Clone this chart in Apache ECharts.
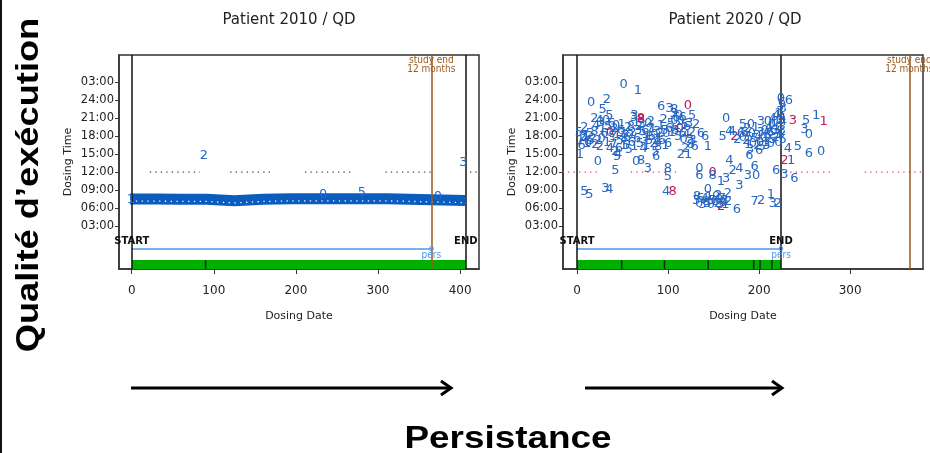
<!DOCTYPE html>
<html>
<head>
<meta charset="utf-8">
<script src="https://cdn.jsdelivr.net/npm/echarts@6/dist/echarts.min.js"></script>
<style>html,body{margin:0;padding:0;background:#fff}#c{width:930px;height:453px}</style>
</head>
<body>
<div id="c"></div>
<script>
// ---------- data ----------
const panelTitles = ['Patient 2010 / QD', 'Patient 2020 / QD'];
const yTickValues = [3, 6, 9, 12, 15, 18, 21, 24, 27];
const yTickLabels = ['03:00', '06:00', '09:00', '12:00', '15:00', '18:00', '21:00', '24:00', '03:00'];
const p1XTicks = [0, 100, 200, 300, 400];
const p2XTicks = [0, 100, 200, 300];

const STUDY_END = 365;
const p1EndDay = 407;
const p2EndDay = 224;
const p1PersEnd = 365;
const p2PersEnd = 224;

// panel 1: dense band of daily doses (day, hour)
const p1Band = [[-2, 7.5], [30, 7.5], [60, 7.45], [91, 7.45], [92, 7.2], [125, 7.2], [126, 7.4], [160, 7.45], [195, 7.55], [250, 7.55], [311, 7.55], [312, 7.25], [406, 7.25]];
// panel 1: isolated digit labels (day, hour, text)
const p1Digits = [[88, 14.85, '2'], [404, 13.6, '3'], [280.5, 8.5, '5'], [233, 8.2, '0'], [373, 7.9, '0'], [-1, 7.4, '1']];
// panel 2: digit labels (day, hour, text, colour 0 = blue, 1 = crimson)
const p2Digits = [
  [51, 26.7, '0', 0], [66.7, 25.6, '1', 0], [15.4, 23.6, '0', 0], [32.6, 24.1, '2', 0], [28, 22.5, '5', 0],
  [35.5, 21.5, '5', 0], [19, 21.0, '2', 0], [24.5, 20.7, '4', 0], [63, 21.5, '3', 0], [70.3, 20.8, '8', 1],
  [92.3, 23.0, '6', 0], [101.5, 22.6, '3', 0], [107, 22.4, '8', 0], [121.6, 23.1, '0', 1], [126.4, 21.5, '5', 0],
  [130.8, 19.9, '2', 0], [163.7, 21.0, '0', 0], [140.7, 17.9, '6', 0], [143.6, 16.2, '1', 0], [127, 17.2, '3', 0],
  [129, 16.2, '6', 0], [114, 15.0, '2', 0], [167, 18.7, '4', 0], [160, 17.9, '5', 0], [172.9, 17.9, '2', 1],
  [182, 19.9, '5', 0], [191, 19.9, '0', 0], [202, 20.4, '3', 0], [209.5, 20.4, '0', 0], [215, 21.0, '4', 0],
  [224, 24.3, '0', 0], [232.6, 23.9, '6', 0], [226, 22.6, '3', 0], [225.3, 20.9, '4', 1], [237, 20.6, '3', 1],
  [251.6, 20.7, '5', 0], [262.6, 21.4, '1', 0], [270.7, 20.5, '1', 1], [249.8, 19.1, '3', 0], [254.6, 18.3, '0', 0],
  [231.5, 15.9, '4', 0], [242.5, 16.3, '5', 0], [254.6, 15.1, '6', 0], [268, 15.4, '0', 0], [227.8, 14.0, '2', 1],
  [235, 14.0, '1', 0], [218.7, 12.3, '6', 0], [227.8, 11.6, '3', 0], [238.8, 10.9, '6', 0], [196.7, 11.5, '0', 0],
  [187.5, 11.5, '3', 0], [194.9, 13.0, '6', 0], [167.4, 14.0, '4', 0], [189.4, 14.8, '6', 0], [158, 10.4, '1', 0],
  [163.7, 10.9, '3', 0], [171, 12.3, '2', 0], [178.4, 12.6, '4', 0], [178.4, 9.8, '3', 0], [134.4, 12.6, '0', 0],
  [134.4, 11.5, '6', 0], [149, 12.0, '0', 1], [149, 11.4, '8', 0], [143.6, 9.0, '0', 0],
  [130.8, 7.3, '3', 0], [136, 7.6, '5', 0], [141.8, 7.0, '8', 0], [149, 7.3, '5', 0], [154.6, 6.7, '2', 0],
  [158.2, 6.2, '2', 1], [162, 7.3, '3', 0], [165.6, 8.4, '2', 0], [134, 6.7, '0', 0], [145, 7.9, '1', 0],
  [152.7, 7.9, '0', 0], [156, 7.4, '0', 0], [140, 7.6, '4', 0], [160, 6.9, '8', 0],
  [132, 7.9, '8', 0], [138, 6.6, '3', 0], [143, 6.8, '5', 0], [147, 6.5, '0', 0], [151, 7.0, '6', 0],
  [155, 8.0, '2', 0], [157, 6.6, '5', 0], [159, 7.6, '7', 0], [163, 6.5, '1', 0], [166, 7.0, '2', 0],
  [175.5, 5.7, '6', 0], [194.9, 7.0, '7', 0], [202.2, 7.2, '2', 0], [213, 8.2, '1', 0], [215, 6.7, '3', 0],
  [220.5, 6.7, '2', 0], [8, 8.7, '5', 0], [13.6, 8.2, '5', 0], [31, 9.25, '3', 0], [35.5, 9.1, '4', 0],
  [97.8, 8.7, '4', 0], [105, 8.7, '8', 1], [99.6, 12.6, '8', 0], [99.6, 11.2, '5', 0], [22.7, 13.7, '0', 0],
  [42, 12.3, '5', 0], [64.8, 13.7, '0', 0], [70.3, 13.9, '8', 0], [77.7, 12.6, '3', 0], [86.8, 14.6, '6', 0],
  [2, 18.6, '5', 0], [4, 17.2, '1', 0], [5, 16.4, '6', 0], [3, 15.0, '1', 0], [7, 17.9, '3', 0],
  [8, 19.4, '2', 0], [10, 18.0, '1', 0], [12, 17.0, '6', 0], [14, 18.4, '5', 0], [17, 17.6, '2', 0],
  [19, 18.8, '8', 0], [21, 19.8, '4', 0], [23, 17.3, '2', 0], [25, 16.2, '2', 0], [26, 20.3, '3', 0],
  [28, 19.3, '1', 0], [30, 18.4, '6', 0], [32, 20.6, '0', 0], [34, 19.6, '5', 0], [36, 18.6, '0', 1],
  [38, 17.6, '3', 0], [40, 16.6, '7', 0], [42, 15.5, '2', 0], [44, 14.6, '5', 0], [46, 16.0, '6', 0],
  [38, 20.2, '6', 0], [41, 19.2, '2', 0], [44, 18.2, '1', 0], [47, 17.2, '5', 0], [49, 20.0, '1', 0],
  [50, 18.5, '3', 0], [52, 17.6, '8', 0], [54, 16.5, '5', 0], [56, 19.5, '2', 0], [58, 18.2, '0', 0],
  [60, 17.0, '6', 0], [45, 15.0, '4', 0], [62, 21.2, '3', 0], [65, 20.3, '1', 0], [68, 19.6, '2', 0],
  [70, 21.0, '8', 1], [72, 18.8, '5', 0], [74, 17.5, '3', 0], [76, 16.4, '1', 0], [78, 20.2, '0', 0],
  [80, 19.1, '7', 0], [82, 18.0, '6', 0], [84, 16.8, '2', 0], [86, 15.5, '5', 0], [88, 18.8, '3', 0],
  [90, 17.6, '1', 0], [92, 19.8, '1', 0], [95, 20.8, '2', 0], [98, 18.4, '0', 0], [100, 16.8, '6', 0],
  [103, 20.2, '5', 0], [106, 21.8, '3', 0], [108, 19.0, '8', 0], [110, 19.8, '2', 0], [113, 19.2, '0', 1],
  [116, 18.5, '6', 0], [118, 20.0, '5', 0], [121, 19.6, '6', 0], [124, 17.4, '3', 0], [126, 18.6, '2', 0],
  [112, 21.4, '0', 0], [116, 21.2, '6', 0], [119, 16.0, '2', 0], [122, 15.0, '1', 0], [136, 18.4, '6', 0],
  [6, 17.8, '2', 0], [11, 16.8, '1', 0], [15, 17.2, '5', 0], [20, 16.6, '2', 0], [27, 17.6, '0', 0],
  [33, 17.0, '1', 0], [36, 16.0, '4', 0], [39, 18.8, '8', 0], [43, 19.8, '0', 0], [48, 18.9, '6', 0],
  [51, 16.4, '1', 0], [55, 17.8, '6', 0], [57, 15.8, '5', 0], [59, 19.6, '8', 0], [61, 18.6, '2', 0],
  [63, 16.2, '1', 0], [66, 17.6, '6', 0], [67, 18.9, '3', 0], [69, 16.8, '5', 0], [71, 19.9, '3', 0],
  [73, 16.0, '4', 0], [75, 19.0, '6', 0], [77, 18.0, '1', 0], [79, 17.2, '5', 0], [81, 20.4, '2', 0],
  [83, 19.2, '1', 0], [85, 18.2, '0', 0], [87, 17.0, '4', 0], [89, 16.2, '8', 0], [91, 18.4, '2', 0],
  [93, 17.2, '6', 0], [96, 19.0, '5', 0], [97, 16.4, '1', 0], [101, 19.2, '6', 0], [104, 18.6, '1', 0],
  [107, 20.6, '0', 0], [109, 21.2, '6', 0], [111, 18.0, '5', 0], [114, 20.4, '3', 0], [117, 17.4, '0', 0],
  [120, 18.2, '4', 0], [123, 20.2, '3', 0], [125, 16.6, '8', 0],
  [170, 18.7, '4', 0], [176, 17.5, '2', 0], [180, 18.4, '6', 0],
  [182, 17.8, '0', 0], [186, 17.2, '2', 0], [188, 16.6, '1', 0], [190, 15.7, '3', 0], [192, 18.4, '0', 0],
  [195, 17.6, '5', 0], [198, 16.4, '2', 0], [200, 15.6, '6', 0], [202, 18.6, '3', 0], [205, 17.8, '0', 0],
  [207, 17.0, '1', 0], [209, 18.2, '8', 0], [211, 19.4, '4', 0], [214, 20.0, '0', 0], [216, 18.9, '6', 0],
  [218, 17.8, '2', 0], [220, 18.3, '3', 0], [222, 19.5, '0', 0], [219, 21.4, '4', 0], [223, 22.2, '3', 0],
  [225, 23.6, '6', 0], [224, 18.3, '5', 0], [226, 17.4, '5', 0], [226, 20.4, '4', 0],
  [184, 18.6, '6', 0], [187, 19.2, '2', 0], [189, 17.8, '5', 0], [193, 16.8, '0', 0], [196, 19.4, '1', 0],
  [199, 18.0, '4', 0], [201, 17.0, '0', 0], [203, 16.2, '5', 0], [206, 19.0, '0', 0], [208, 16.4, '3', 0],
  [210, 17.6, '2', 0], [212, 18.6, '6', 0], [213, 16.8, '0', 0], [215, 17.4, '5', 0], [217, 20.4, '0', 0],
  [219, 19.0, '3', 0], [221, 17.0, '0', 0], [223, 20.6, '2', 0], [221, 21.8, '1', 0], [225, 19.0, '3', 0]
];
// dotted reference segments at 12:00 (start day, end day)
const p1DotSegments = [[22, 83], [120, 172], [211, 270], [309, 367], [412, 423]];
const p2DotSegments = [[-16, 25], [59, 110], [228, 281], [316, 380]];
// refill marks on the persistence bar (days)
const p1Refills = [90];
const p2Refills = [49, 96, 144, 194, 201, 214];

// ---------- constants (layout / style) ----------
const Y_MIN = -4.2, Y_MAX = 31.6, REF_HOUR = 12;
const START_Y = 0.45, PERS_Y = -0.84, PERS_TXT_Y = -1.85, BAR_TOP = -2.68, BAR_MID = -3.44, STUDY_TXT_Y = 29.9;
const BLUE = '#2767c4', CRIMSON = '#c2185b', BAND = '#0b5cbf', BROWN = '#9a5a1e', LIGHT = '#4b97ea';

function toSegments(segs, y) {
  const out = [];
  segs.forEach((s, i) => { if (i) out.push([s[0], '-']); out.push([s[0], y]); out.push([s[1], y]); });
  return out;
}
function textSeries(idx, arr, colorFn, font) {
  return {
    type: 'custom', xAxisIndex: idx, yAxisIndex: idx, clip: false, z: 5,
    data: arr.map(d => [d[0], d[1]]),
    renderItem: (params, api) => {
      const d = arr[params.dataIndex];
      const p = api.coord([d[0], d[1]]);
      return { type: 'text', x: p[0], y: p[1], style: { text: String(d[2]), fill: colorFn(d), font: font, align: 'center', verticalAlign: 'middle' } };
    }
  };
}
function annotations(idx, endDay, persEnd, dotSegs, dotColor, refills) {
  const notes = [
    [0, START_Y, 'START', '#111', 'bold 10px DejaVu Sans'],
    [endDay, START_Y, 'END', '#111', 'bold 10px DejaVu Sans'],
    [persEnd, PERS_TXT_Y, 'pers', LIGHT, '10px DejaVu Sans Condensed'],
    [persEnd, PERS_Y, 'o', LIGHT, '9px DejaVu Sans'],
    [STUDY_END, STUDY_TXT_Y, 'study end\n12 months', BROWN, '10px DejaVu Sans Condensed']
  ];
  return [
    { type: 'line', xAxisIndex: idx, yAxisIndex: idx, data: toSegments(dotSegs, REF_HOUR), symbol: 'none', connectNulls: false,
      lineStyle: { color: dotColor, width: 1.3, type: [1.3, 4.2] }, z: 2, silent: true },
    { type: 'line', xAxisIndex: idx, yAxisIndex: idx, data: [[0, PERS_Y], [persEnd, PERS_Y]], symbol: 'none',
      lineStyle: { color: LIGHT, width: 1.5 }, z: 3, silent: true },
    { type: 'scatter', xAxisIndex: idx, yAxisIndex: idx, data: refills.map(d => [d, BAR_MID]), symbol: 'rect', symbolSize: [1.6, 9],
      itemStyle: { color: '#111' }, z: 4, silent: true,
      markArea: { silent: true, itemStyle: { color: '#00b000' }, data: [[{ coord: [0, Y_MIN] }, { coord: [endDay, BAR_TOP] }]] },
      markLine: { silent: true, symbol: 'none', label: { show: false },
        data: [
          { xAxis: 0, lineStyle: { color: '#111', width: 1.5, type: 'solid' } },
          { xAxis: endDay, lineStyle: { color: '#111', width: 1.5, type: 'solid' } },
          { xAxis: STUDY_END, lineStyle: { color: BROWN, width: 1.5, type: 'solid' } }
        ] } },
    {
      type: 'custom', xAxisIndex: idx, yAxisIndex: idx, clip: false, z: 6,
      data: notes.map(n => [n[0], n[1]]),
      renderItem: (params, api) => {
        const n = notes[params.dataIndex];
        const p = api.coord([n[0], n[1]]);
        return { type: 'text', x: p[0], y: p[1], style: { text: n[2], fill: n[3], font: n[4], align: 'center', verticalAlign: 'middle', lineHeight: 9 } };
      }
    }
  ];
}
function xAxisCfg(idx, max, ticks) {
  return {
    type: 'value', gridIndex: idx, min: -15.5, max: max, name: 'Dosing Date', nameLocation: 'middle', nameGap: 42,
    nameTextStyle: { fontFamily: 'DejaVu Sans', fontSize: 11, color: '#222' },
    axisLine: { show: true, onZero: false, lineStyle: { color: '#333', width: 1.5 } }, splitLine: { show: false },
    axisTick: { show: true, customValues: ticks, length: 5, lineStyle: { color: '#333' } },
    axisLabel: { customValues: ticks, margin: 16, fontFamily: 'DejaVu Sans', fontSize: 12, color: '#222' }
  };
}
function yAxisCfg(idx) {
  return {
    type: 'value', gridIndex: idx, min: Y_MIN, max: Y_MAX, name: 'Dosing Time', nameLocation: 'middle', nameGap: 45, nameRotate: 90,
    nameTextStyle: { fontFamily: 'DejaVu Sans', fontSize: 11, color: '#222' },
    axisLine: { show: true, onZero: false, lineStyle: { color: '#333', width: 1.5 } }, splitLine: { show: false },
    axisTick: { show: true, customValues: yTickValues, length: 4, lineStyle: { color: '#333' } },
    axisLabel: { customValues: yTickValues, margin: 5, fontFamily: 'DejaVu Sans', fontSize: 11.5, color: '#222',
      formatter: v => yTickLabels[yTickValues.indexOf(v)] }
  };
}

const chart = echarts.init(document.getElementById('c'), null, { renderer: 'canvas' });
const option = {
  backgroundColor: '#fff',
  animation: false,
  grid: [
    { left: 119, top: 55, width: 360, height: 214, show: true, borderColor: '#333', borderWidth: 1.5 },
    { left: 563, top: 55, width: 360, height: 214, show: true, borderColor: '#333', borderWidth: 1.5 }
  ],
  xAxis: [xAxisCfg(0, 423, p1XTicks), xAxisCfg(1, 380, p2XTicks)],
  yAxis: [yAxisCfg(0), yAxisCfg(1)],
  graphic: [
    { type: 'rect', shape: { x: 0, y: 0, width: 2, height: 453 }, style: { fill: '#111' } },
    { type: 'text', x: 29, y: 185, rotation: Math.PI / 2, scaleX: 1.17, style: { text: 'Qualité d’exécution', font: 'bold 31px Liberation Sans', fill: '#000', align: 'center', verticalAlign: 'middle' } },
    { type: 'text', x: 508, y: 439, scaleX: 1.19, style: { text: 'Persistance', font: 'bold 31px Liberation Sans', fill: '#000', align: 'center', verticalAlign: 'middle' } },
    { type: 'text', x: 289, y: 20, style: { text: panelTitles[0], font: '15px DejaVu Sans', fill: '#222', align: 'center', verticalAlign: 'middle' } },
    { type: 'text', x: 735, y: 20, style: { text: panelTitles[1], font: '15px DejaVu Sans', fill: '#222', align: 'center', verticalAlign: 'middle' } },
    { type: 'line', shape: { x1: 131, y1: 388, x2: 450, y2: 388 }, style: { stroke: '#000', lineWidth: 3 } },
    { type: 'polyline', shape: { points: [[441, 381], [451, 388], [441, 395]] }, style: { stroke: '#000', lineWidth: 3, fill: null } },
    { type: 'line', shape: { x1: 585, y1: 388, x2: 781, y2: 388 }, style: { stroke: '#000', lineWidth: 3 } },
    { type: 'polyline', shape: { points: [[772, 381], [782, 388], [772, 395]] }, style: { stroke: '#000', lineWidth: 3, fill: null } }
  ],
  series: [
    { type: 'line', xAxisIndex: 0, yAxisIndex: 0, data: p1Band, symbol: 'none', z: 4,
      lineStyle: { color: BAND, width: 11, cap: 'butt', join: 'miter' } },
    { type: 'line', xAxisIndex: 0, yAxisIndex: 0, data: p1Band.map(d => [d[0], d[1] - 0.35]), symbol: 'none', z: 4,
      lineStyle: { color: '#ffffff', width: 1.3, type: [1.3, 4.5] } },
    textSeries(0, p1Digits, d => BLUE, '13px DejaVu Sans'),
    ...annotations(0, p1EndDay, p1PersEnd, p1DotSegments, '#444', p1Refills),
    textSeries(1, p2Digits, d => d[3] ? CRIMSON : BLUE, '13px DejaVu Sans'),
    ...annotations(1, p2EndDay, p2PersEnd, p2DotSegments, '#e0407a', p2Refills)
  ]
};
chart.setOption(option);
</script>
</body>
</html>
